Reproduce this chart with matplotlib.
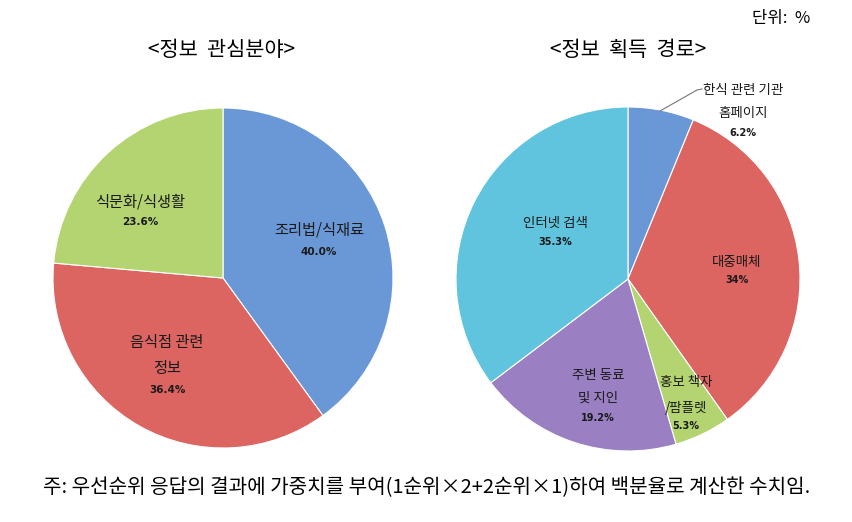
import matplotlib
matplotlib.use("Agg")
import matplotlib.pyplot as plt

plt.rcParams['font.family'] = ['Noto Sans CJK KR', 'DejaVu Sans']

# Data
left_title = "<정보  관심분야>"
left_labels = ["조리법/식재료", "음식점 관련\n정보", "식문화/식생활"]
left_values = [40.0, 36.4, 23.6]
left_pct = ["40.0%", "36.4%", "23.6%"]
left_colors = ["#6A98D6", "#DC6461", "#B3D470"]

right_title = "<정보  획득  경로>"
right_labels = ["한식 관련 기관\n홈페이지", "대중매체", "홍보 책자\n/팜플렛", "주변 동료\n및 지인", "인터넷 검색"]
right_values = [6.2, 34.0, 5.3, 19.2, 35.3]
right_pct = ["6.2%", "34%", "5.3%", "19.2%", "35.3%"]
right_colors = ["#6A98D6", "#DC6461", "#B3D470", "#9A80C2", "#60C4DF"]

unit_text = "단위:  %"
note_text = "주: 우선순위 응답의 결과에 가중치를 부여(1순위×2+2순위×1)하여 백분율로 계산한 수치임."

W, H = 852, 522
fig = plt.figure(figsize=(W / 100, H / 100), dpi=100)


def make_ax(cx, cy, r):
    ax = fig.add_axes([(cx - r) / W, (H - cy - r) / H, 2 * r / W, 2 * r / H])
    ax.axis("off")
    return ax


def px2d(px, py, cx, cy, r):
    return (px - cx) / r, (cy - py) / r


def put_labels(ax, labels, pcts, pos, cx, cy, r, fs_lab, fs_pct):
    # pos: (x_center, [y centers of label lines], y center of pct)
    for lab, pct, (px, ys, ypct) in zip(labels, pcts, pos):
        for line, yy in zip(lab.split("\n"), ys):
            x, y = px2d(px, yy, cx, cy, r)
            ax.text(x, y, line, ha="center", va="center", fontsize=fs_lab,
                    color="#1a1a1a", fontweight="medium", clip_on=False)
        x2, y2 = px2d(px, ypct, cx, cy, r)
        ax.text(x2, y2, pct, ha="center", va="center", fontsize=fs_pct,
                color="#1a1a1a", fontweight="bold", family="DejaVu Sans",
                clip_on=False)


# Left pie
lcx, lcy, lr = 223, 278, 170
axL = make_ax(lcx, lcy, lr)
axL.pie(left_values, colors=left_colors, startangle=90, counterclock=False,
        radius=1, wedgeprops=dict(linewidth=0.8, edgecolor="white"))
axL.set_xlim(-1, 1)
axL.set_ylim(-1, 1)
left_pos = [(319, [230], 252), (167, [342, 368], 390), (140, [202], 222)]
put_labels(axL, left_labels, left_pct, left_pos, lcx, lcy, lr, 11, 7.5)

# Right pie
rcx, rcy, rr = 628, 279, 172
axR = make_ax(rcx, rcy, rr)
axR.pie(right_values, colors=right_colors, startangle=90, counterclock=False,
        radius=1, wedgeprops=dict(linewidth=0.8, edgecolor="white"))
axR.set_xlim(-1, 1)
axR.set_ylim(-1, 1)
right_pos = [(743, [90, 113], 133), (737, [262], 280), (686, [382, 408], 426),
             (598, [375, 398], 418), (555, [223], 242)]
put_labels(axR, right_labels, right_pct, right_pos, rcx, rcy, rr, 9.7, 7)

# leader line for small slice
lx = [px2d(p, 0, rcx, rcy, rr)[0] for p in (660, 697, 702)]
ly = [px2d(0, p, rcx, rcy, rr)[1] for p in (111, 90, 89)]
axR.plot(lx, ly, color="#777777", linewidth=0.8, clip_on=False)

# Titles and texts
fig.text(221 / W, 1 - 50 / H, left_title, ha="center", va="center", fontsize=15)
fig.text(628 / W, 1 - 50 / H, right_title, ha="center", va="center", fontsize=15)
fig.text(810 / W, 1 - 18 / H, unit_text, ha="right", va="center", fontsize=12)
fig.text(427 / W, 1 - 488 / H, note_text, ha="center", va="center", fontsize=14.5)

fig.savefig("out.png", dpi=100, facecolor="white")
